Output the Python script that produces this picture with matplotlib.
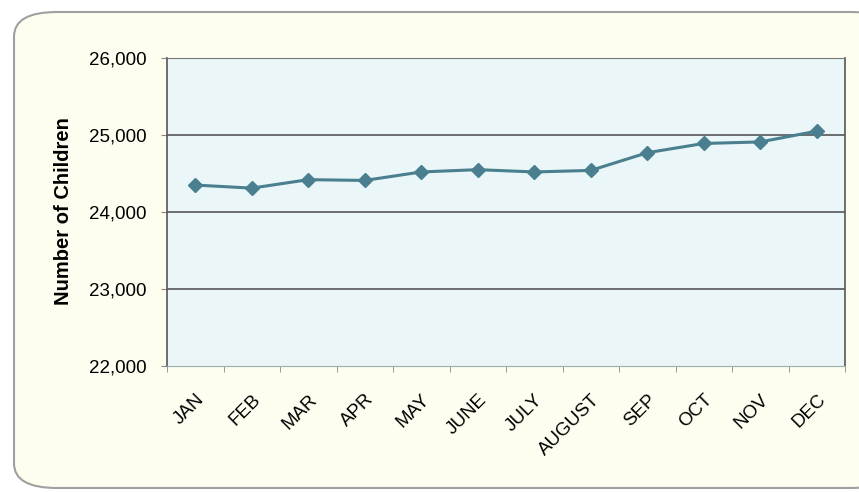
import matplotlib.pyplot as plt
from matplotlib.patches import FancyBboxPatch
from matplotlib.ticker import FuncFormatter, FixedLocator
import numpy as np

months = ['JAN', 'FEB', 'MAR', 'APR', 'MAY', 'JUNE', 'JULY', 'AUGUST',
          'SEP', 'OCT', 'NOV', 'DEC']
children = [24350, 24310, 24420, 24410, 24520, 24550, 24520, 24540,
            24770, 24890, 24910, 25050]
yticks = [22000, 23000, 24000, 25000, 26000]

plt.rcParams['font.family'] = ['Liberation Sans', 'DejaVu Sans']

fig = plt.figure(figsize=(8.59, 4.92), dpi=100)
fig.patch.set_facecolor('white')

# rounded card behind the chart
W, H = 859, 492
card = FancyBboxPatch((14 / W, 4 / H), 880 / W, 476 / H,
                      boxstyle='round,pad=0,rounding_size=0.05',
                      transform=fig.transFigure, facecolor='#fdfdf0',
                      edgecolor='#a0a0a0', linewidth=1.5, zorder=-5)
fig.patches.append(card)

ax = fig.add_axes([167 / W, 1 - 366 / H, 678 / W, 308 / H])
ax.set_facecolor('#eaf6f7')

x = np.arange(len(months))
ax.plot(x, children, color='#4a7f90', linewidth=2.2, marker='D',
        markersize=7, zorder=3)

ax.set_xlim(-0.5, len(months) - 0.5)
ax.set_ylim(22000, 26000)
ax.set_yticks(yticks)
ax.yaxis.set_major_formatter(FuncFormatter(lambda v, p: f'{int(v):,}'))
for v in yticks[1:-1]:
    ax.axhline(v, color='#555555', linewidth=1.2, zorder=1)

ax.set_xticks(x)
ax.set_xticklabels(months, rotation=45, ha='right', rotation_mode='anchor',
                   fontsize=13.5)
ax.tick_params(axis='x', length=0, pad=18)
ax.xaxis.set_minor_locator(FixedLocator(np.arange(-0.5, len(months), 1)))
ax.tick_params(axis='x', which='minor', length=4, color='#888888')
ax.tick_params(axis='y', labelsize=13.5, length=4, pad=11, color='#888888')

for s in ['left', 'right']:
    ax.spines[s].set_color('#555555')
    ax.spines[s].set_linewidth(1.2)
ax.spines['top'].set_color('#777777')
ax.spines['bottom'].set_color('#9ab0b0')

ax.set_ylabel('Number of Children', fontsize=14.5, fontweight='bold')
ax.yaxis.set_label_coords(-0.139, 0.503)

fig.savefig('out.png', dpi=100)
